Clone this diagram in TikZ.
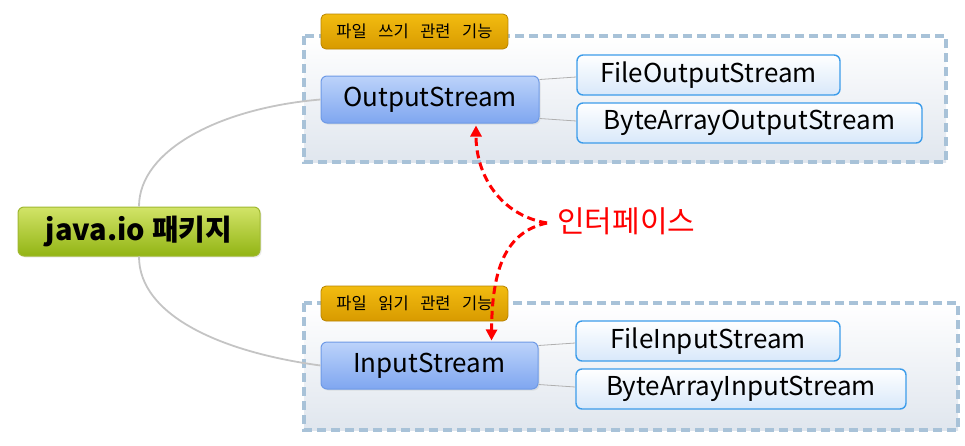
\documentclass[tikz,border=0pt]{standalone}
\usepackage{fontspec}
\setmainfont{Noto Sans CJK KR}
\usetikzlibrary{arrows.meta,shadows}
\definecolor{grpborder}{HTML}{A8C2D8}
\definecolor{grpbot}{HTML}{E0E6EE}
\definecolor{lbltop}{HTML}{F2BC10}
\definecolor{lblbot}{HTML}{D89A00}
\definecolor{lbldraw}{HTML}{B88400}
\definecolor{maintop}{HTML}{BCD3FA}
\definecolor{mainbot}{HTML}{7FA6F0}
\definecolor{maindraw}{HTML}{6E9AE6}
\definecolor{subbot}{HTML}{D8E8FA}
\definecolor{subdraw}{HTML}{3C9CEA}
\definecolor{pkgtop}{HTML}{D2E468}
\definecolor{pkgbot}{HTML}{92B414}
\definecolor{pkgdraw}{HTML}{A0B830}
\definecolor{linkgray}{HTML}{C4C4C4}
\newcommand{\gp}{\hspace{0.7em}}
\tikzset{
  grp/.style={draw=grpborder, line width=3.5pt, dash pattern=on 9pt off 5pt,
    top color=white, bottom color=grpbot},
  lbl/.style={draw=lbldraw, line width=0.8pt, rounded corners=5pt,
    top color=lbltop, bottom color=lblbot, font=\fontsize{16.5}{18}\selectfont,
    minimum width=187, minimum height=35, inner sep=0pt},
  mainbox/.style={draw=maindraw, line width=1pt, rounded corners=6pt,
    top color=maintop, bottom color=mainbot, font=\fontsize{26}{30}\selectfont,
    minimum height=47, inner sep=0pt, drop shadow={opacity=0.15, shadow xshift=1.5pt, shadow yshift=-1.5pt}},
  subbox/.style={draw=subdraw, line width=1.4pt, rounded corners=6pt,
    top color=white, bottom color=subbot, font=\fontsize{26}{30}\selectfont,
    minimum height=40, inner sep=0pt},
  pkgbox/.style={draw=pkgdraw, line width=1pt, rounded corners=6pt,
    top color=pkgtop, bottom color=pkgbot, font=\bfseries\fontsize{29}{32}\selectfont,
    minimum width=242, minimum height=49, inner sep=0pt,
    drop shadow={opacity=0.15, shadow xshift=1.5pt, shadow yshift=-1.5pt}},
  link/.style={draw=linkgray, line width=1.8pt},
  thin link/.style={draw=linkgray!90!black, line width=0.8pt},
  iface/.style={draw=red, line width=3pt, dash pattern=on 8pt off 4.5pt,
    -{Triangle[length=11pt,width=11pt]}},
}
\begin{document}
\begin{tikzpicture}[x=1pt,y=-1pt]
\useasboundingbox (0,0) rectangle (965,445);
% groups
\path[grp] (304,36) rectangle (946,162);
\path[grp] (304,303) rectangle (958,430);
% labels
\node[lbl] (lblw) at (414.5,31.5) {파일\gp 쓰기\gp 관련\gp 기능};
\node[lbl] (lblr) at (414.5,303.5) {파일\gp 읽기\gp 관련\gp 기능};
% main nodes
\node[pkgbox] (pkg) at (139,231.5) {java.io 패키지};
\node[mainbox, minimum width=218] (out) at (430,99.5) {OutputStream};
\node[mainbox, minimum width=217] (in) at (429.5,365.5) {InputStream};
\node[subbox, minimum width=263] (fos) at (708.5,75) {FileOutputStream};
\node[subbox, minimum width=345] (baos) at (749.5,123) {ByteArrayOutputStream};
\node[subbox, minimum width=264] (fis) at (708,341) {FileInputStream};
\node[subbox, minimum width=330] (bais) at (741,389) {ByteArrayInputStream};
% links
\draw[link] (pkg.north) .. controls (139,150) and (220,108) .. (out.west);
\draw[link] (pkg.south) .. controls (139,315) and (220,352) .. (in.west);
\draw[thin link] ([yshift=20pt]out.east) -- ([yshift=-2pt]fos.west);
\draw[thin link] ([yshift=-19pt]out.east) -- ([yshift=2pt]baos.west);
\draw[thin link] ([yshift=20pt]in.east) -- ([yshift=-2pt]fis.west);
\draw[thin link] ([yshift=-19pt]in.east) -- ([yshift=2pt]bais.west);
% interface arrows
\coordinate (j) at (547,223);
\node[anchor=west, text=red, font=\fontsize{30}{34}\selectfont, inner sep=0pt] (iflabel) at (557,221) {인터페이스};
\draw[iface] (j) .. controls (500,215) and (476,175) .. ([xshift=46pt,yshift=-2pt]out.south);
\draw[iface] (j) .. controls (505,232) and (492,270) .. ([xshift=62pt,yshift=1pt]in.north);
\end{tikzpicture}
\end{document}
